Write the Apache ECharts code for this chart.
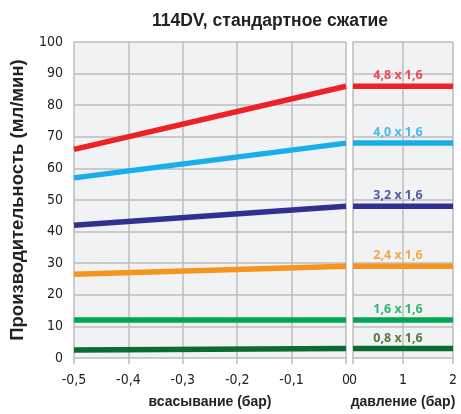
<!DOCTYPE html>
<html><head><meta charset="utf-8">
<script src="https://cdn.jsdelivr.net/npm/echarts@6/dist/echarts.min.js"></script>
<style>html,body{margin:0;padding:0;background:#fff}#c{width:461px;height:414px}</style>
</head><body><div id="c"></div>
<script>
const sizes = ['4,8 x 1,6','4,0 x 1,6','3,2 x 1,6','2,4 x 1,6','1,6 x 1,6','0,8 x 1,6'];
const colors = ['#ec2227','#19aeea','#2e3192','#f7941d','#00a651','#0a6b33'];
const labelColors = ['#ec2227','#19aeea','#2e3192','#f7941d','#00a651','#2f5a12'];
const suctionX = [-0.5, 0];
const suctionAtMinus05 = [66, 57, 42, 26.5, 12, 2.5];
const suctionAt0 = [86, 68, 48, 29, 12, 3];
const pressureX = [0, 2];
const pressureVals = [86, 68, 48, 29, 12, 3];
const labelX = 1;

const chart = echarts.init(document.getElementById('c'));
const gridLine = {show:true, lineStyle:{color:'#bdbdbd', width:1.5}};
const axisFont = "'Liberation Sans Narrow','DejaVu Sans Condensed','Open Sans',sans-serif";
const fmt = v => String(Math.round(v*10)/10).replace('.', ',');
const series = [];
sizes.forEach((s,i)=>{
  series.push({type:'line', xAxisIndex:0, yAxisIndex:0, symbol:'none', silent:true,
    lineStyle:{color:colors[i], width:5.5},
    data:[[suctionX[0], suctionAtMinus05[i]],[suctionX[1], suctionAt0[i]]]});
  series.push({type:'line', xAxisIndex:1, yAxisIndex:1, symbol:'none', silent:true,
    lineStyle:{color:colors[i], width:5.5},
    data:[[pressureX[0], pressureVals[i]],[pressureX[1], pressureVals[i]]]});
  series.push({type:'scatter', xAxisIndex:1, yAxisIndex:1, symbolSize:0, silent:true,
    data:[[labelX, pressureVals[i]]],
    label:{show:true, position:'top', distance:4, offset:[-5,0], formatter:s,
      color:labelColors[i], fontWeight:'bold', fontSize:12.5, fontFamily:"'Open Sans',sans-serif"}});
});
chart.setOption({
  animation:false,
  backgroundColor:'#fff',
  title:{text:'114DV, стандартное сжатие', left:265, textAlign:'center', top:7,
    textStyle:{fontSize:17.5, fontWeight:'bold', color:'#222', fontFamily:"'Liberation Sans',Arial,sans-serif"}},
  grid:[
    {left:74, right:115, top:42, bottom:50, show:true, backgroundColor:'#f1f2f4', borderWidth:0},
    {left:353, right:8, top:42, bottom:50, show:true, backgroundColor:'#f1f2f4', borderWidth:0}
  ],
  xAxis:[
    {gridIndex:0, type:'value', min:-0.5, max:0, interval:0.1,
     name:'всасывание (бар)', nameLocation:'middle', nameGap:37,
     nameTextStyle:{fontSize:14, fontWeight:'bold', color:'#222', fontFamily:"'Liberation Sans',Arial,sans-serif"},
     axisLine:{show:false}, axisTick:{show:true, length:6, lineStyle:{color:'#bdbdbd', width:1.5}},
     splitLine:gridLine,
     axisLabel:{formatter:fmt, color:'#222', fontSize:14, margin:15, fontFamily:axisFont}},
    {gridIndex:1, type:'value', min:0, max:2, interval:1,
     name:'давление (бар)', nameLocation:'middle', nameGap:37,
     nameTextStyle:{fontSize:14, fontWeight:'bold', color:'#222', fontFamily:"'Liberation Sans',Arial,sans-serif"},
     axisLine:{show:false}, axisTick:{show:true, length:6, lineStyle:{color:'#bdbdbd', width:1.5}},
     splitLine:gridLine,
     axisLabel:{formatter:fmt, color:'#222', fontSize:14, margin:15, fontFamily:axisFont}}
  ],
  yAxis:[
    {gridIndex:0, type:'value', min:0, max:100, interval:10,
     name:'Производительность (мл/мин)', nameLocation:'middle', nameGap:47, nameRotate:90,
     nameTextStyle:{fontSize:18.5, fontWeight:'bold', color:'#222', fontFamily:"'Liberation Sans',Arial,sans-serif"},
     axisLine:{show:false}, axisTick:{show:false}, splitLine:gridLine,
     axisLabel:{color:'#222', fontSize:14, margin:11, fontFamily:axisFont}},
    {gridIndex:1, type:'value', min:0, max:100, interval:10,
     axisLine:{show:false}, axisTick:{show:false}, splitLine:gridLine,
     axisLabel:{show:false}}
  ],
  series
});
</script></body></html>
